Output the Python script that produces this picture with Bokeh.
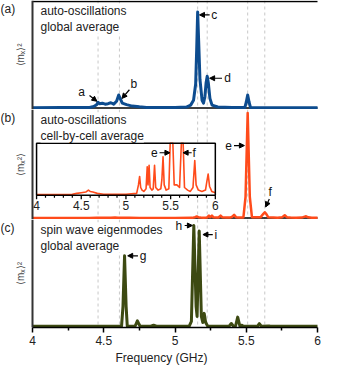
import math
import numpy as np
from bokeh.plotting import figure
from bokeh.layouts import column
from bokeh.models import (Range1d, LinearAxis, FixedTicker, Span, Label, Arrow,
                          NormalHead)
from bokeh.core.properties import value
from bokeh.embed import file_html
from bokeh.resources import INLINE

FONT = "Liberation Sans"

# ---------------- data ----------------
# (a) auto-oscillations, global average
freq_a = [4.00, 4.20, 4.40, 4.43, 4.45, 4.46, 4.47, 4.49, 4.51, 4.53, 4.55, 4.57, 4.59,
          4.605, 4.615, 4.63, 4.66, 4.70, 4.75, 4.80, 4.90, 5.00, 5.08, 5.11, 5.13, 5.145,
          5.152, 5.159, 5.166, 5.175, 5.19, 5.20, 5.21, 5.218, 5.226, 5.234, 5.245, 5.26,
          5.30, 5.40, 5.49, 5.50, 5.51, 5.52, 5.53, 5.70, 6.00]
amp_a = [0.003, 0.004, 0.006, 0.015, 0.035, 0.06, 0.045, 0.05, 0.04, 0.045, 0.055, 0.04, 0.07,
         0.135, 0.10, 0.05, 0.035, 0.02, 0.012, 0.006, 0.004, 0.005, 0.01, 0.03, 0.08, 0.25,
         0.6, 1.0, 0.7, 0.3, 0.08, 0.05, 0.12, 0.26, 0.33, 0.26, 0.1, 0.03,
         0.01, 0.004, 0.005, 0.06, 0.135, 0.06, 0.005, 0.003, 0.003]

# (b) auto-oscillations, cell-by-cell average
freq_b = [4.00, 4.40, 4.45, 4.50, 4.55, 4.58, 4.60, 4.63, 4.68, 4.75, 5.00, 5.12, 5.14,
          5.153, 5.165, 5.18, 5.20, 5.225, 5.238, 5.247, 5.259, 5.27, 5.29, 5.305, 5.32,
          5.333, 5.36, 5.39, 5.402, 5.415, 5.428, 5.45, 5.48, 5.495, 5.51, 5.525, 5.54,
          5.57, 5.60, 5.62, 5.63, 5.64, 5.655, 5.69, 5.72, 5.75, 5.77, 5.785, 5.81, 5.85,
          5.89, 5.905, 5.92, 5.935, 5.96, 6.00]
amp_b = [0.0005, 0.0008, 0.0015, 0.002, 0.0025, 0.004, 0.003, 0.0025, 0.0015, 0.0008, 0.0008,
         0.0015, 0.008, 0.0145, 0.006, 0.004, 0.003, 0.005, 0.022, 0.008, 0.023, 0.006, 0.004,
         0.005, 0.023, 0.006, 0.004, 0.005, 0.012, 0.0296, 0.008, 0.004, 0.005, 0.2, 1.0,
         0.2, 0.008, 0.008, 0.006, 0.04, 0.055, 0.04, 0.006, 0.004, 0.003, 0.006, 0.0267,
         0.008, 0.004, 0.003, 0.004, 0.0105, 0.0164, 0.007, 0.003, 0.002]

# (c) spin wave eigenmodes, global average
freq_c = [4.00, 4.60, 4.625, 4.635, 4.646, 4.657, 4.665, 4.72, 4.728, 4.736, 4.745, 4.755,
          4.83, 4.85, 4.87, 5.00, 5.10, 5.115, 5.132, 5.148, 5.155, 5.17, 5.185, 5.195,
          5.205, 5.215, 5.23, 5.38, 5.395, 5.41, 5.425, 5.44, 5.455, 5.47, 5.48, 5.58,
          5.592, 5.605, 5.66, 5.67, 6.00]
amp_c = [0.002, 0.002, 0.004, 0.2, 0.70, 0.2, 0.004, 0.003, 0.03, 0.056, 0.03, 0.003,
         0.003, 0.012, 0.003, 0.002, 0.003, 0.05, 1.0, 0.2, 0.1, 0.945, 0.1, 0.04,
         0.13, 0.04, 0.003, 0.003, 0.03, 0.003, 0.005, 0.093, 0.005, 0.012, 0.003, 0.003,
         0.028, 0.003, 0.005, 0.003, 0.002]

mode_lines = [4.46, 4.61, 5.159, 5.226, 5.51, 5.63]

x_ticks = [4, 4.5, 5, 5.5, 6]
x_tick_labels = ["4", "4.5", "5", "5.5", "6"]
x_minor = [4.25, 4.75, 5.25, 5.75]
inset_minor = [4.1, 4.2, 4.3, 4.4, 4.6, 4.7, 4.8, 4.9, 5.1, 5.2, 5.3, 5.4,
               5.6, 5.7, 5.8, 5.9]

panel_tags = ["(a)", "(b)", "(c)"]
panel_titles = ["auto-oscillations\nglobal average",
                "auto-oscillations\ncell-by-cell average",
                "spin wave eigenmodes\nglobal average"]
y_labels = ["⟨mₓ⟩²", "⟨mₓ²⟩", "⟨mₓ⟩²"]

# peak markers: (text, text_x, text_y, align, arrow x0, y0, x1, y1)
marks_a = [("a", 4.345, 0.165, "center", 4.40, 0.13, 4.452, 0.07),
           ("b", 4.712, 0.255, "center", 4.680, 0.19, 4.628, 0.10),
           ("c", 5.255, 0.97, "left", 5.243, 0.97, 5.172, 0.97),
           ("d", 5.345, 0.31, "left", 5.330, 0.31, 5.243, 0.31)]
marks_b = [("e", 5.40, 0.69, "right", 5.414, 0.69, 5.487, 0.69),
           ("f", 5.668, 0.25, "center", 5.662, 0.18, 5.636, 0.105)]
marks_inset = [("e", 5.354, 0.0327, "right", 5.376, 0.0327, 5.492, 0.0327),
               ("f", 5.746, 0.0327, "left", 5.735, 0.0327, 5.64, 0.0327)]
marks_c = [("g", 4.752, 0.70, "left", 4.740, 0.70, 4.668, 0.70),
           ("h", 5.05, 1.0, "right", 5.068, 1.0, 5.122, 1.0),
           ("i", 5.278, 0.91, "left", 5.265, 0.91, 5.196, 0.91)]

BLUE = "#0d4c8f"
ORANGE = "#ff4b1b"
OLIVE = "#3d4a12"
INK = "#222222"

# ---------------- geometry (pixels) ----------------
W = 322
X4_PX, X6_PX = 32, 317          # where 4 GHz and 6 GHz fall on the canvas
gpp = (x_ticks[-1] - x_ticks[0]) / (X6_PX - X4_PX)   # GHz per pixel
x_range = Range1d(x_ticks[0] - X4_PX * gpp, x_ticks[-1] + (W - X6_PX) * gpp)


def make_panel(frame_h, ppu, base_px, tag, title, ylab, bottom_axis=False,
               top_line=False):
    y0 = -base_px / ppu
    y1 = (frame_h - base_px) / ppu
    kw = dict(height=frame_h) if not bottom_axis else dict(frame_height=frame_h)
    p = figure(width=W, x_range=x_range, y_range=Range1d(y0, y1),
               output_backend="svg", toolbar_location=None,
               x_axis_type=None, y_axis_type=None, min_border_left=0,
               min_border_right=0, min_border_top=0, min_border_bottom=0, **kw)
    p.outline_line_color = None
    p.grid.visible = False
    p.background_fill_color = "white"
    p.border_fill_color = "white"

    for f in mode_lines:
        p.add_layout(Span(location=f, dimension="height", line_color="#c8c8c8",
                          line_dash="3 3", line_width=1, level="underlay"))
    # left spine
    p.add_layout(Span(location=x_ticks[0], dimension="height", line_color="#333333",
                      line_width=2))

    if bottom_axis:
        xax = LinearAxis(ticker=FixedTicker(ticks=x_ticks, minor_ticks=x_minor),
                         bounds=(x_ticks[0], x_ticks[-1]),
                         major_label_overrides=dict(zip(x_ticks, x_tick_labels)),
                         axis_label="Frequency (GHz)", axis_line_color="black",
                         axis_line_width=1.5, major_tick_out=5, major_tick_in=0,
                         minor_tick_out=3, minor_tick_in=0,
                         major_tick_line_width=1.5, minor_tick_line_width=1.5,
                         major_label_standoff=3, axis_label_standoff=3,
                         major_label_text_font=FONT, major_label_text_font_size="12px",
                         major_label_text_color=INK,
                         axis_label_text_font=FONT, axis_label_text_font_size="12px",
                         axis_label_text_font_style="normal",
                         axis_label_text_color=INK)
        p.add_layout(xax, "below")
    else:
        p.segment(x0=[x_ticks[0]], x1=[x_ticks[-1]], y0=[0], y1=[0],
                  line_color="black", line_width=1.5)
    if top_line:
        yt = y1 - 1.0 / ppu
        p.segment(x0=[x_ticks[0]], x1=[x_ticks[-1]], y0=[yt], y1=[yt],
                  line_color="black", line_width=1.5)

    p.add_layout(Label(x=x_ticks[0], y=y1, x_offset=-X4_PX, y_offset=-1, text=tag,
                       text_baseline="top", text_align="left", text_font=FONT,
                       text_font_size="12px", text_color=INK))
    p.add_layout(Label(x=x_ticks[0], y=(y0 + y1) / 2, x_offset=-12, text=ylab,
                       angle=math.pi / 2, text_baseline="middle", text_align="center",
                       text_font=FONT, text_font_size="10px", text_color="#444444"))
    p.add_layout(Label(x=x_ticks[0], y=y1, x_offset=8, y_offset=-3, text=title,
                       text_baseline="top", text_align="left", text_font=FONT,
                       text_font_size="12px", text_color=INK,
                       text_line_height=1.15, background_fill_color="white"))
    return p


def add_marks(p, marks, range_name=None):
    kw = {}
    if range_name:
        kw = dict(x_range_name=range_name, y_range_name=range_name)
    for (t, tx, ty, al, x0, y0, x1, y1) in marks:
        p.add_layout(Arrow(end=NormalHead(size=5, line_color="black", fill_color="black",
                                          line_width=1),
                           x_start=x0, y_start=y0, x_end=x1, y_end=y1,
                           line_color="black", line_width=1.2, **kw))
        p.add_layout(Label(x=tx, y=ty, text=t, text_align=al, text_baseline="middle",
                           text_font=FONT, text_font_size="12px", text_color="#111111",
                           **kw))


# ---------------- panel (a) ----------------
pa = make_panel(109, 96.0, 1.5, panel_tags[0], panel_titles[0], y_labels[0],
                top_line=True)
pa.line(freq_a, amp_a, line_color=BLUE, line_width=3, line_join="round")
add_marks(pa, marks_a)

# ---------------- panel (b) with inset ----------------
PPU_B = 105.0
pb = make_panel(110, PPU_B, 1.5, panel_tags[1], panel_titles[1], y_labels[1])
pb.line(freq_b, amp_b, line_color=ORANGE, line_width=2.5, line_join="round")

# inset box expressed in the main panel's units (GHz / amplitude)
INSET_L, INSET_R = 4.0285, 5.283
INSET_B, INSET_T = 0.216, 0.712
INSET_YMAX = 0.04
sx = (x_ticks[-1] - x_ticks[0]) / (INSET_R - INSET_L)
sy = INSET_YMAX / (INSET_T - INSET_B)
pb.extra_x_ranges = {"inset": Range1d(x_ticks[0] + (x_range.start - INSET_L) * sx,
                                      x_ticks[0] + (x_range.end - INSET_L) * sx)}
pb.extra_y_ranges = {"inset": Range1d((pb.y_range.start - INSET_B) * sy,
                                      (pb.y_range.end - INSET_B) * sy)}
px_y = sy / PPU_B  # inset units per pixel
ins = dict(x_range_name="inset", y_range_name="inset")

pb.quad(left=x_ticks[0], right=x_ticks[-1], bottom=0, top=INSET_YMAX,
        fill_color="white", line_color=None, **ins)
pb.line(freq_b, np.clip(amp_b, 0, INSET_YMAX), line_color=ORANGE, line_width=1.6,
        line_join="round", **ins)
pb.quad(left=x_ticks[0], right=x_ticks[-1], bottom=0, top=INSET_YMAX,
        fill_color=None, line_color="black", line_width=1.5, **ins)
pb.segment(x0=x_ticks, x1=x_ticks, y0=[0] * len(x_ticks), y1=[-4 * px_y] * len(x_ticks),
           line_color="black", line_width=1.3, **ins)
pb.segment(x0=inset_minor, x1=inset_minor, y0=[0] * len(inset_minor),
           y1=[-2.5 * px_y] * len(inset_minor), line_color="black", line_width=1.2, **ins)
pb.text(x=x_ticks, y=[-6 * px_y] * len(x_ticks), text=x_tick_labels,
        text_align="center", text_baseline="top", text_font=value(FONT),
        text_font_size="12px", text_color=INK, **ins)
add_marks(pb, marks_b)
add_marks(pb, marks_inset, "inset")

# ---------------- panel (c) ----------------
pc = make_panel(108, 101.0, 1.0, panel_tags[2], panel_titles[2], y_labels[2],
                bottom_axis=True)
pc.line(freq_c, amp_c, line_color=OLIVE, line_width=3, line_join="round")
add_marks(pc, marks_c)

layout = column(pa, pb, pc, spacing=0)
open("out.html", "w").write(file_html(layout, INLINE))
